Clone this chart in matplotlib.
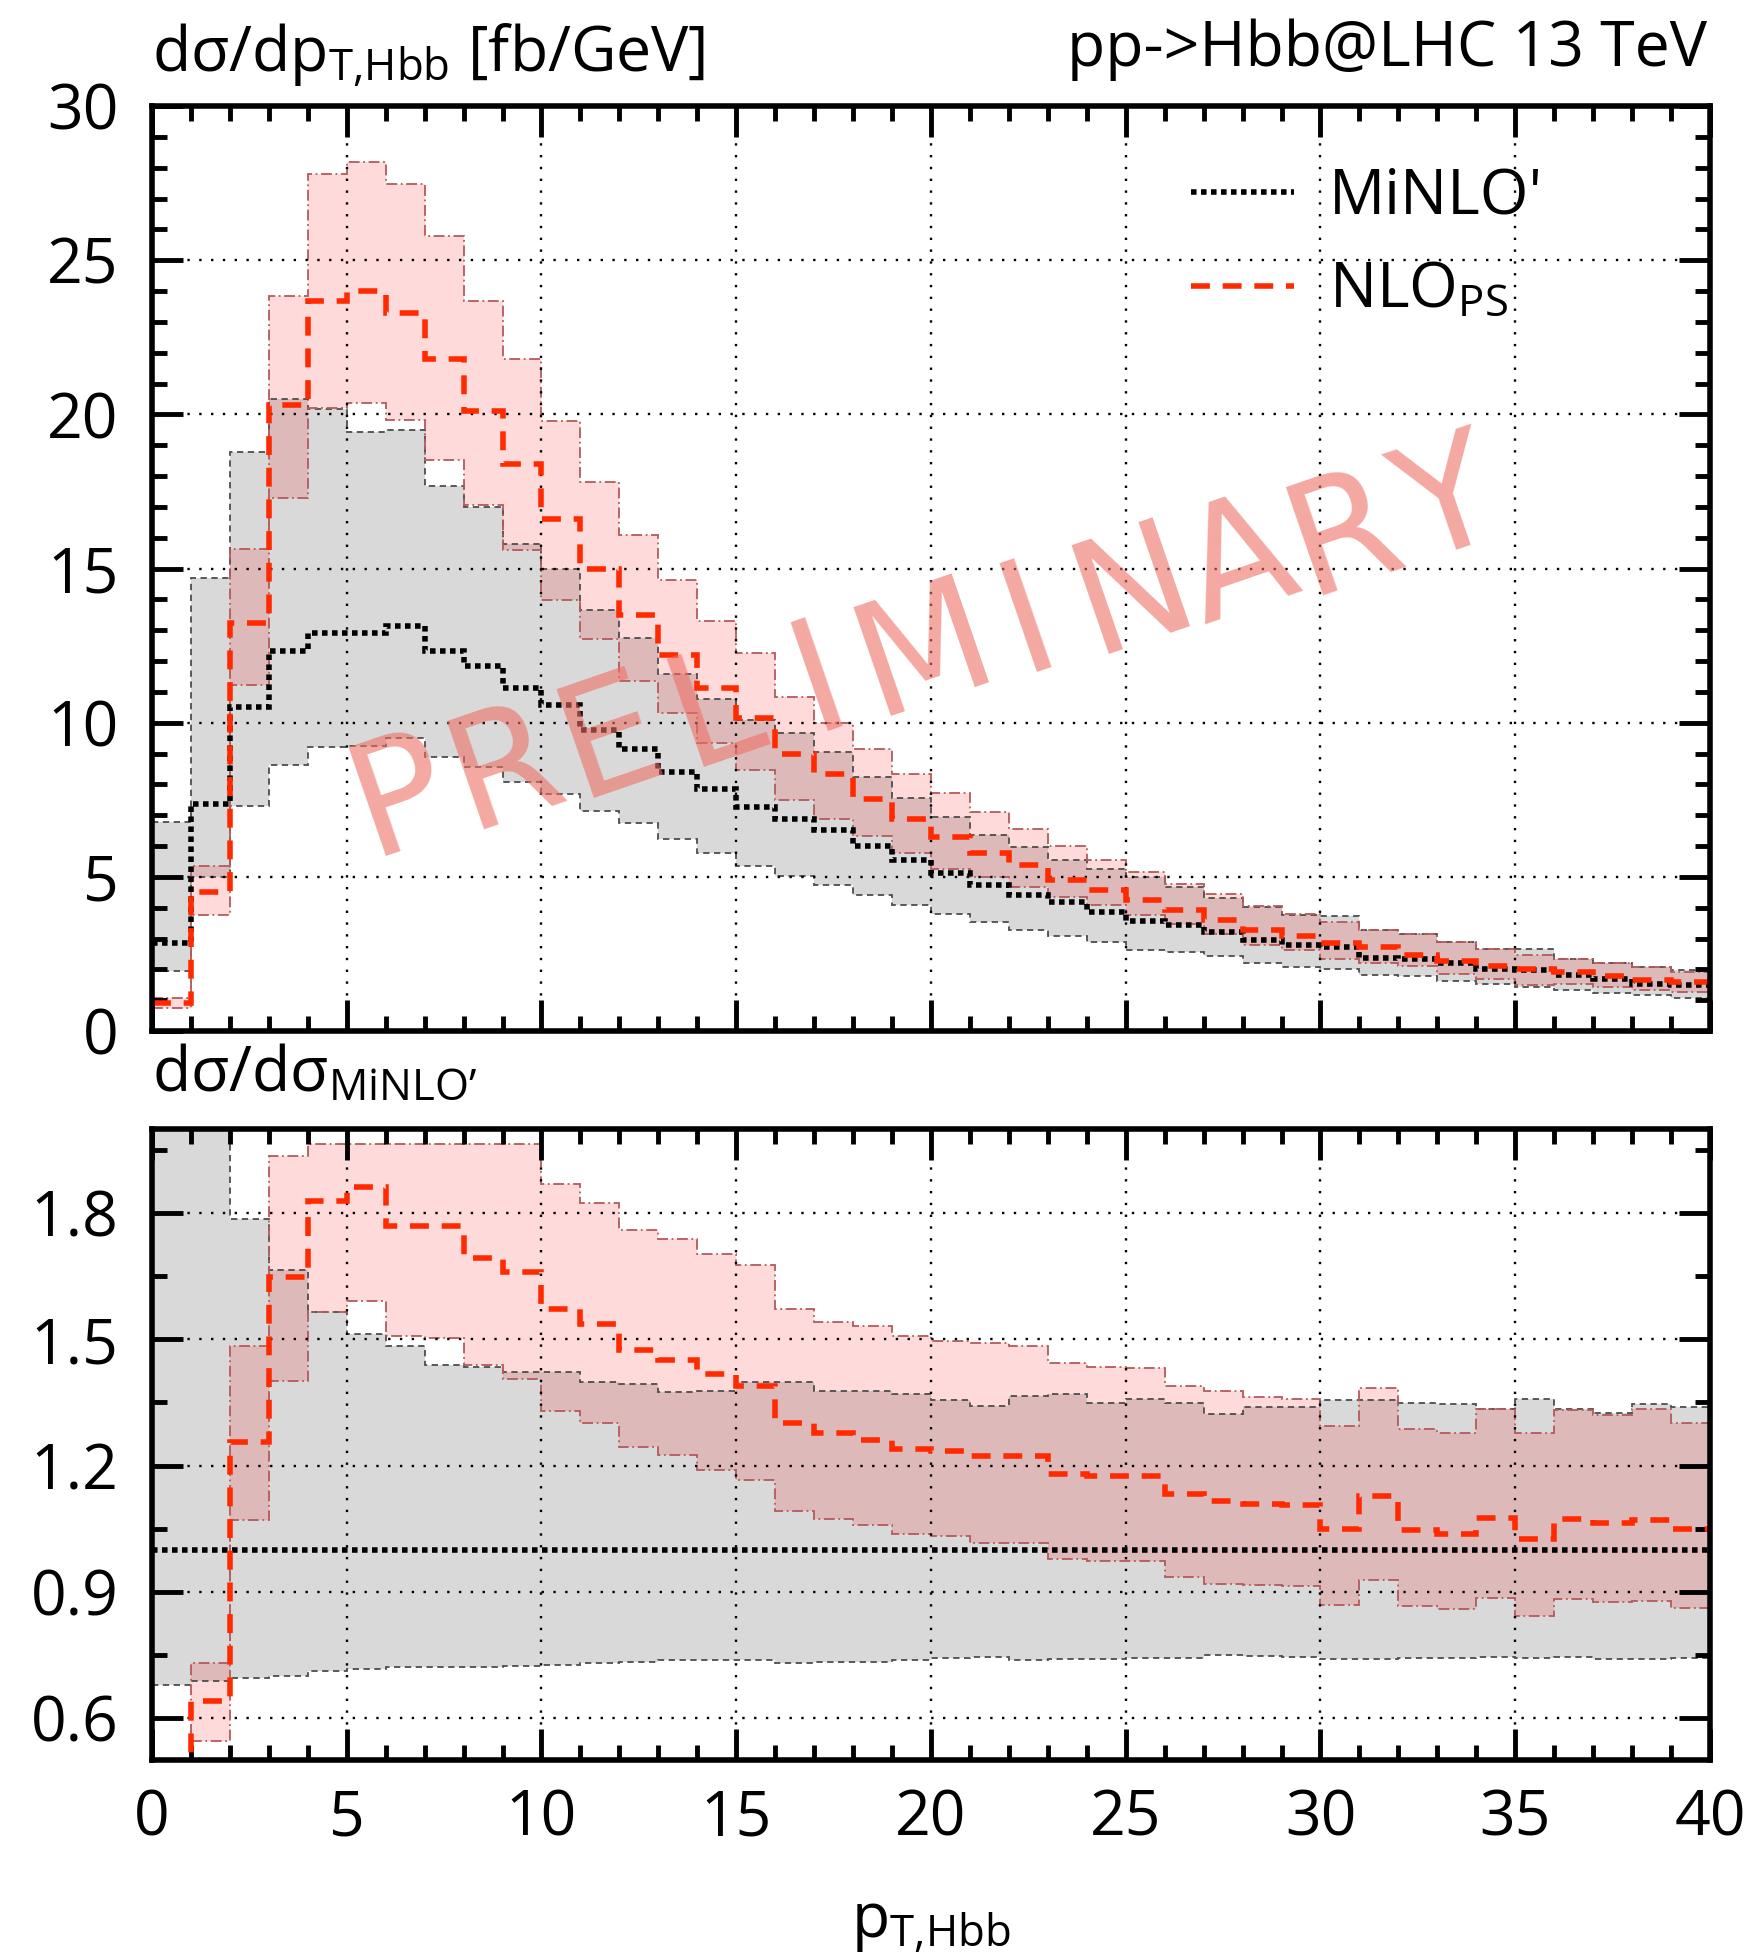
#!/usr/bin/env python3
"""
pT,Hbb spectrum of pp -> Hbb at 13 TeV: MiNLO' vs NLO_PS
with scale-variation bands, plus ratio panel to MiNLO'.
"""

import numpy as np
import matplotlib
matplotlib.use("Agg")
import matplotlib.pyplot as plt
from matplotlib.lines import Line2D
from matplotlib.ticker import MultipleLocator

# 1 GeV bins from 0 to 40 GeV
pt_edges = np.arange(0, 41, 1)

# --- top panel: dsigma/dpT [fb/GeV] ---
minlo_central = [2.86, 7.35, 10.52, 12.31, 12.92, 12.92, 13.13, 12.31, 11.84, 11.14,
                 10.58, 9.77, 9.13, 8.40, 7.85, 7.27, 6.89, 6.52, 6.00, 5.56,
                 5.11, 4.73, 4.40, 4.19, 3.86, 3.57, 3.43, 3.21, 2.94, 2.78,
                 2.73, 2.37, 2.35, 2.19, 2.02, 1.97, 1.81, 1.70, 1.54, 1.48]
minlo_up = [6.79, 14.68, 18.77, 20.50, 20.18, 19.44, 19.50, 17.68, 17.00, 15.80,
            15.00, 13.65, 12.76, 11.58, 10.77, 10.10, 9.65, 9.06, 8.25, 7.56,
            6.95, 6.37, 5.97, 5.56, 5.27, 5.00, 4.68, 4.32, 4.03, 3.76,
            3.72, 3.27, 3.16, 2.89, 2.67, 2.67, 2.35, 2.19, 2.08, 1.97]
minlo_down = [1.93, 5.00, 7.31, 8.63, 9.21, 9.24, 9.50, 8.90, 8.57, 8.07,
              7.68, 7.12, 6.73, 6.23, 5.78, 5.36, 5.02, 4.73, 4.40, 4.08,
              3.79, 3.54, 3.27, 3.07, 2.89, 2.64, 2.56, 2.42, 2.19, 2.08,
              2.02, 1.81, 1.77, 1.61, 1.52, 1.43, 1.34, 1.23, 1.16, 1.07]
nlops_central = [0.90, 4.50, 13.24, 20.31, 23.68, 24.00, 23.30, 21.80, 20.10, 18.40,
                 16.60, 15.00, 13.48, 12.18, 11.12, 10.14, 9.00, 8.35, 7.54, 6.86,
                 6.30, 5.78, 5.38, 4.91, 4.57, 4.24, 3.92, 3.59, 3.29, 3.07,
                 2.84, 2.73, 2.48, 2.26, 2.10, 2.02, 1.92, 1.77, 1.65, 1.59]
nlops_up = [1.07, 5.36, 15.64, 23.84, 27.80, 28.20, 27.46, 25.77, 23.67, 21.81,
            19.77, 17.80, 16.10, 14.62, 13.31, 12.27, 10.84, 10.00, 9.13, 8.35,
            7.71, 7.11, 6.54, 6.00, 5.56, 5.16, 4.78, 4.43, 4.05, 3.79,
            3.54, 3.29, 3.16, 2.89, 2.67, 2.48, 2.32, 2.19, 2.08, 1.92]
nlops_down = [0.76, 3.77, 11.23, 17.28, 20.22, 20.36, 19.82, 18.52, 17.06, 15.60,
              13.98, 12.70, 11.36, 10.30, 9.35, 8.46, 7.49, 6.89, 6.32, 5.76,
              5.24, 5.00, 4.68, 4.35, 4.08, 3.76, 3.48, 3.16, 2.78, 2.62,
              2.32, 2.19, 2.10, 1.86, 1.70, 1.48, 1.54, 1.43, 1.34, 1.27]

# --- bottom panel: ratio to MiNLO' central ---
ratio_ref = 1.0
ratio_minlo_up = [2.37, 2.05, 1.785, 1.665, 1.565, 1.512, 1.484, 1.440, 1.435, 1.423,
                  1.423, 1.398, 1.393, 1.374, 1.377, 1.398, 1.398, 1.377, 1.377, 1.369,
                  1.356, 1.342, 1.366, 1.369, 1.349, 1.359, 1.349, 1.322, 1.339, 1.339,
                  1.356, 1.356, 1.349, 1.346, 1.334, 1.359, 1.334, 1.324, 1.346, 1.339]
ratio_minlo_down = [0.678, 0.688, 0.694, 0.700, 0.712, 0.717, 0.720, 0.720, 0.722, 0.724,
                    0.727, 0.730, 0.734, 0.737, 0.737, 0.737, 0.730, 0.734, 0.734, 0.737,
                    0.742, 0.745, 0.737, 0.739, 0.739, 0.742, 0.742, 0.750, 0.747, 0.745,
                    0.739, 0.739, 0.742, 0.742, 0.745, 0.742, 0.745, 0.739, 0.739, 0.742]
ratio_nlops_central = [0.31, 0.64, 1.257, 1.648, 1.830, 1.862, 1.770, 1.770, 1.694, 1.660,
                       1.571, 1.536, 1.474, 1.452, 1.418, 1.388, 1.300, 1.278, 1.260, 1.240,
                       1.235, 1.223, 1.223, 1.180, 1.174, 1.174, 1.132, 1.115, 1.109, 1.105,
                       1.048, 1.127, 1.046, 1.038, 1.075, 1.026, 1.072, 1.063, 1.070, 1.048]
ratio_nlops_up = [0.37, 0.73, 1.484, 1.936, 1.965, 1.965, 1.965, 1.965, 1.965, 1.965,
                  1.869, 1.823, 1.760, 1.739, 1.704, 1.677, 1.571, 1.541, 1.531, 1.507,
                  1.497, 1.492, 1.484, 1.443, 1.435, 1.433, 1.388, 1.376, 1.364, 1.359,
                  1.293, 1.385, 1.287, 1.277, 1.334, 1.277, 1.332, 1.319, 1.334, 1.301]
ratio_nlops_down = [0.26, 0.544, 1.070, 1.400, 1.565, 1.590, 1.507, 1.504, 1.438, 1.405,
                    1.329, 1.301, 1.245, 1.224, 1.190, 1.165, 1.092, 1.072, 1.058, 1.038,
                    1.033, 1.016, 1.016, 0.978, 0.973, 0.973, 0.934, 0.919, 0.917, 0.914,
                    0.868, 0.929, 0.865, 0.858, 0.885, 0.842, 0.882, 0.875, 0.878, 0.862]

watermark = "PRELIMINARY"

# colours
GRAY_FILL = "#d9d9d9"
GRAY_EDGE = "#4d4d4d"
PINK_FILL = (1.0, 0.0, 0.0, 0.145)
PINK_EDGE = "#b45a5a"
RED = "#ff2a00"

FS = 45  # main font size (pt)
DOTTED = dict(color="black", linewidth=4.0, linestyle=(0, (1, 0.8)))
DASHED = dict(color=RED, linewidth=4.0, linestyle=(0, (3.4, 2.3)))

plt.rcParams["font.family"] = ["Open Sans", "DejaVu Sans"]
plt.rcParams["mathtext.fontset"] = "custom"
plt.rcParams["mathtext.rm"] = "Open Sans"
plt.rcParams["mathtext.it"] = "Open Sans:italic"
plt.rcParams["mathtext.bf"] = "Open Sans:bold"


def draw_bands(ax, edges, ref_up, ref_dn, nlo_up, nlo_dn):
    """Gray MiNLO' band under a translucent pink NLO_PS band"""
    ax.stairs(ref_up, edges, baseline=ref_dn, fill=True, color=GRAY_FILL,
              linewidth=0, zorder=1)
    ax.stairs(nlo_up, edges, baseline=nlo_dn, fill=True, color=PINK_FILL,
              linewidth=0, zorder=1.5)
    for vals in (ref_up, ref_dn):
        ax.stairs(vals, edges, baseline=None, color=GRAY_EDGE,
                  linewidth=1.3, linestyle=(0, (3.5, 2.5)), zorder=2)
    for vals in (nlo_up, nlo_dn):
        ax.stairs(vals, edges, baseline=None, color=PINK_EDGE,
                  linewidth=1.3, linestyle=(0, (6, 2, 1, 2)), zorder=2)


def style_axis(ax, y_major, y_minor):
    """gnuplot-like frame: thick spines, inward ticks on all sides"""
    ax.set_xlim(0, 40)
    ax.xaxis.set_major_locator(MultipleLocator(5))
    ax.xaxis.set_minor_locator(MultipleLocator(1))
    ax.yaxis.set_major_locator(MultipleLocator(y_major))
    ax.yaxis.set_minor_locator(MultipleLocator(y_minor))
    for sp in ax.spines.values():
        sp.set_linewidth(4)
        sp.set_zorder(6)
    ax.tick_params(which="both", direction="in", top=True, right=True,
                   width=3.5, labelsize=FS, colors="black")
    ax.tick_params(which="major", length=22)
    ax.tick_params(which="minor", length=11)
    ax.tick_params(axis="y", which="major", pad=24)
    ax.tick_params(axis="x", which="major", pad=20)
    ax.grid(True, which="major", color="black", linestyle=(0, (1, 4)),
            linewidth=1.7)
    ax.set_axisbelow(False)


def main():
    fig = plt.figure(figsize=(17.56, 19.57), dpi=100)
    W, H = 1756.0, 1957.0

    # ---------------- top panel ----------------
    ax = fig.add_axes([152 / W, 1 - 1031 / H, 1558 / W, 925 / H])
    draw_bands(ax, pt_edges, minlo_up, minlo_down, nlops_up, nlops_down)
    ax.stairs(minlo_central, pt_edges, baseline=None, zorder=4, **DOTTED)
    ax.stairs(nlops_central, pt_edges, baseline=None, zorder=5, **DASHED)
    style_axis(ax, 5, 1)
    ax.set_ylim(0, 30)
    ax.tick_params(axis="x", labelbottom=False)

    handles = [Line2D([], [], **DOTTED), Line2D([], [], **DASHED)]
    ax.legend(handles, ["MiNLO'", "NLO$_{\\mathrm{PS}}$"], loc="upper left",
              bbox_to_anchor=(0.667, 0.935), frameon=False, fontsize=FS,
              handlelength=1.65, handletextpad=0.55, labelspacing=0.5,
              borderpad=0, borderaxespad=0)

    # hand-drawn style watermark, letters spread along a slanted line
    n = len(watermark)
    wx = np.linspace(6.4, 33.3, n)
    wy = np.linspace(7.5, 17.0, n)
    for ch, x, y in zip(watermark, wx, wy):
        ax.text(x, y, ch, rotation=19, fontsize=112, family="DejaVu Sans",
                color="#ee6e64", alpha=0.6, ha="center", va="center",
                rotation_mode="anchor", zorder=10)

    # ---------------- ratio panel ----------------
    axr = fig.add_axes([152 / W, 1 - 1760 / H, 1558 / W, 631 / H])
    draw_bands(axr, pt_edges, ratio_minlo_up, ratio_minlo_down,
               ratio_nlops_up, ratio_nlops_down)
    axr.axhline(ratio_ref, zorder=4, **DOTTED)
    axr.stairs(ratio_nlops_central, pt_edges, baseline=None, zorder=5, **DASHED)
    style_axis(axr, 0.3, 0.15)
    axr.set_ylim(0.5, 2.0)
    axr.set_yticks([0.6, 0.9, 1.2, 1.5, 1.8])
    axr.set_yticklabels(["0.6", "0.9", "1.2", "1.5", "1.8"])

    # ---------------- labels ----------------
    fig.text(152 / W, 1 - 56 / H, "dσ/dp$_{\\mathrm{T{,}Hbb}}$ [fb/GeV]",
             fontsize=FS, ha="left", va="center")
    fig.text(1707 / W, 1 - 50 / H, "pp->Hbb@LHC 13 TeV",
             fontsize=FS, ha="right", va="center")
    fig.text(152 / W, 1 - 1075 / H, "dσ/dσ$_{\\mathrm{MiNLO'}}$".replace("'", "\u2019"),
             fontsize=FS, ha="left", va="center")
    fig.text(931 / W, 1 - 1925 / H, "p$_{\\mathrm{T{,}Hbb}}$",
             fontsize=FS, ha="center", va="center")

    fig.savefig("out.png", dpi=100)


if __name__ == "__main__":
    main()
